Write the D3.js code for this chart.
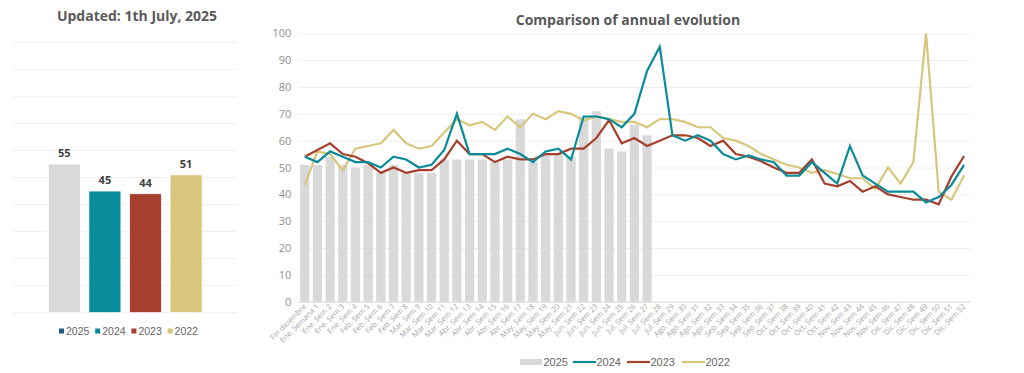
<!DOCTYPE html>
<html>
<head>
<meta charset="utf-8">
<script src="https://cdn.jsdelivr.net/npm/d3@7/dist/d3.min.js"></script>
<style>
  body { margin: 0; background: #fff; }
  text { font-family: "Open Sans", sans-serif; }
  .leg { font-family: "Liberation Sans", Arial, sans-serif; }
</style>
</head>
<body>
<svg id="chart" width="1024" height="373"></svg>
<script>
// --- data ---
const years = ['2025', '2024', '2023', '2022'];
const averages = [55, 45, 44, 51];

const weeks = ['Fin diciembre', 'Ene. Semana 1', 'Ene. Sem 2', 'Ene. Sem 3', 'Ene. Sem 4',
  'Feb. Sem 5', 'Feb. Sem 6', 'Feb. Sem 7', 'Feb. Sem 8', 'Mar. Sem 9', 'Mar. Sem 10',
  'Mar. Sem 11', 'Mar. Sem 12', 'Abr. Sem 13', 'Abr. Sem 14', 'Abr. Sem 15', 'Abr. Sem 16',
  'Abr. Sem 17', 'May. Sem 18', 'May. Sem 19', 'May. Sem 20', 'May. Sem 21', 'Jun. Sem 22',
  'Jun. Sem 23', 'Jun. Sem 24', 'Jun. Sem 25', 'Jul. Sem 26', 'Jul. Sem 27', 'Jul. Sem 28',
  'Jul. Sem 29', 'Ago. Sem 30', 'Ago. Sem 31', 'Ago. Sem 32', 'Ago. Sem 33', 'Sep. Sem 34',
  'Sep. Sem 35', 'Sep. Sem 36', 'Sep. Sem 37', 'Oct. Sem 38', 'Oct. Sem 39', 'Oct. Sem 40',
  'Oct. Sem 41', 'Oct. Sem 42', 'Nov. Sem 43', 'Nov. Sem 44', 'Nov. Sem 45', 'Nov. Sem 46',
  'Dic. Sem 47', 'Dic. Sem 48', 'Dic. Sem 49', 'Dic. Sem 50', 'Dic. Sem 51', 'Dic. Sem 52'];

const y2025 = [51, 51, 54, 51, 50, 51, 48, 51, 48, 48, 48, 53, 53, 53, 53, 52, 53, 68, 52, 55,
  55, 54, 69, 71, 57, 56, 66, 62];
const y2024 = [54, 52, 56, 54, 52, 52, 50, 54, 53, 50, 51, 56.5, 70, 55, 55, 55, 57, 55, 52, 56,
  57, 53, 69, 69, 68, 65, 70, 86, 95, 62, 60, 62, 60, 55, 53, 54.5, 53, 52, 47, 47,
  52, 48, 44, 58, 47, 44, 41, 41, 41, 37, 39, 43.5, 51];
const y2023 = [54, 56.5, 59, 55, 54, 51.6, 48, 50, 48, 49, 49, 53, 60, 55, 55, 52, 54, 53, 53, 55,
  55, 57, 57, 61, 67.7, 59, 61, 58, 60, 62, 62, 61, 58, 60, 55, 54, 52.3, 50, 48, 48,
  53, 44, 43, 45, 41, 43, 40, 39, 38, 38, 36.3, 46.6, 54.3];
const y2022 = [43.5, 56, 55, 49, 57, 58, 59, 64, 59, 57, 58, 63, 68, 65.7, 67, 64, 69, 65, 70, 68,
  71, 70, 67.5, 69, 68, 67, 67, 65, 68, 68, 67, 65, 65, 61, 60, 58, 55, 53, 51, 50,
  48, 49, 47.6, 46, 46, 42, 50, 44, 52, 100, 41, 38, 47];

const yTicks = [0, 10, 20, 30, 40, 50, 60, 70, 80, 90, 100];

const colors = { '2025': '#d9d9d9', '2024': '#0a8b98', '2023': '#a5402f', '2022': '#d7c67b' };

const svg = d3.select('#chart');
svg.append('rect').attr('width', 1024).attr('height', 373).attr('fill', '#fff');

// ---------- left panel: averages ----------
const lx = d3.scaleBand().domain(years).range([44.2, 206.2]).paddingInner(0.21).paddingOuter(0.1);
const ly = d3.scaleLinear().domain([0, 100]).range([312.7, 42.3]);

svg.append('text')
  .attr('x', 137).attr('y', 21)
  .attr('text-anchor', 'middle')
  .attr('font-size', 14).attr('font-weight', 700).attr('fill', '#595959')
  .text('Updated: 1th July, 2025');

svg.append('g').selectAll('line')
  .data(yTicks)
  .enter().append('line')
  .attr('x1', 13).attr('x2', 237)
  .attr('y1', d => ly(d)).attr('y2', d => ly(d))
  .attr('stroke', '#efefef').attr('stroke-width', 1);

svg.append('g').selectAll('rect')
  .data(years)
  .enter().append('rect')
  .attr('x', d => lx(d))
  .attr('y', (d, i) => ly(averages[i]))
  .attr('width', lx.bandwidth())
  .attr('height', (d, i) => ly(0) - ly(averages[i]))
  .attr('fill', d => colors[d])
  .attr('stroke', '#fff').attr('stroke-width', 0.8);

svg.append('g').selectAll('text')
  .data(years)
  .enter().append('text')
  .attr('x', d => lx(d) + lx.bandwidth() / 2)
  .attr('y', (d, i) => ly(averages[i]) - 7)
  .attr('text-anchor', 'middle')
  .attr('font-size', 11).attr('font-weight', 700).attr('fill', '#404040')
  .text((d, i) => averages[i]);

// left legend (2025 swatch is dark blue in the original)
const leftLegColors = ['#1d5f82', colors['2024'], colors['2023'], colors['2022']];
const lleg = svg.append('g').selectAll('g')
  .data(years)
  .enter().append('g')
  .attr('transform', (d, i) => 'translate(' + (59 + i * 36.2) + ',333)');
lleg.append('rect')
  .attr('x', 0).attr('y', -4.5).attr('width', 5).attr('height', 5)
  .attr('fill', (d, i) => leftLegColors[i]);
lleg.append('text')
  .attr('class', 'leg')
  .attr('x', 7).attr('y', 1.8)
  .attr('font-size', 10.5).attr('fill', '#666')
  .text(d => d);

// ---------- right panel: weekly evolution ----------
const x = d3.scaleBand().domain(weeks).range([298.4, 970.4]).paddingInner(0.27).paddingOuter(0.135);
const y = d3.scaleLinear().domain([0, 100]).range([301.7, 33.3]);
const cx = d => x(d) + x.bandwidth() / 2;

svg.append('text')
  .attr('x', 628).attr('y', 25)
  .attr('text-anchor', 'middle')
  .attr('font-size', 14).attr('font-weight', 700).attr('fill', '#595959')
  .text('Comparison of annual evolution');

// grid + y axis labels
const yAxis = d3.axisLeft(y).tickValues(yTicks).tickSize(-(970.4 - 298.4)).tickPadding(7);
const gy = svg.append('g').attr('transform', 'translate(298.4,0)').call(yAxis);
gy.select('.domain').remove();
gy.selectAll('.tick line').attr('stroke', d => d === 0 ? '#d4d4d4' : '#efefef');
gy.selectAll('.tick text')
  .attr('font-family', '"Open Sans", sans-serif')
  .attr('font-size', 11).attr('fill', '#8f8f8f');

// 2025 bars
svg.append('g').selectAll('rect')
  .data(y2025)
  .enter().append('rect')
  .attr('x', (d, i) => x(weeks[i]))
  .attr('y', d => y(d))
  .attr('width', x.bandwidth())
  .attr('height', d => y(0) - y(d))
  .attr('fill', colors['2025']);

// lines
const line = d3.line().x((d, i) => cx(weeks[i])).y(d => y(d));
[['2022', y2022], ['2023', y2023], ['2024', y2024]].forEach(([yr, vals]) => {
  svg.append('path')
    .datum(vals)
    .attr('d', line)
    .attr('fill', 'none')
    .attr('stroke', colors[yr])
    .attr('stroke-width', 2.2)
    .attr('stroke-linejoin', 'miter');
});

// x labels
svg.append('g').selectAll('text')
  .data(weeks)
  .enter().append('text')
  .attr('transform', d => 'translate(' + (cx(d) + 2) + ',307) rotate(-45)')
  .attr('text-anchor', 'end')
  .attr('font-size', 7.5).attr('fill', '#a6a6a6')
  .text(d => d);

// bottom legend
const rleg = [
  { k: '2025', x: 520, type: 'rect' },
  { k: '2024', x: 573, type: 'line' },
  { k: '2023', x: 627, type: 'line' },
  { k: '2022', x: 682, type: 'line' }
];
const rg = svg.append('g').selectAll('g')
  .data(rleg)
  .enter().append('g')
  .attr('transform', d => 'translate(' + d.x + ',362)');
rg.filter(d => d.type === 'rect').append('rect')
  .attr('x', 0).attr('y', -3).attr('width', 22).attr('height', 6)
  .attr('fill', colors['2025']);
rg.filter(d => d.type === 'line').append('line')
  .attr('x1', 0).attr('x2', 23).attr('y1', 0).attr('y2', 0)
  .attr('stroke', d => colors[d.k]).attr('stroke-width', 2.2);
rg.append('text')
  .attr('class', 'leg')
  .attr('x', 23.5).attr('y', 4)
  .attr('font-size', 11).attr('fill', '#666')
  .text(d => d.k);
</script>
</body>
</html>
